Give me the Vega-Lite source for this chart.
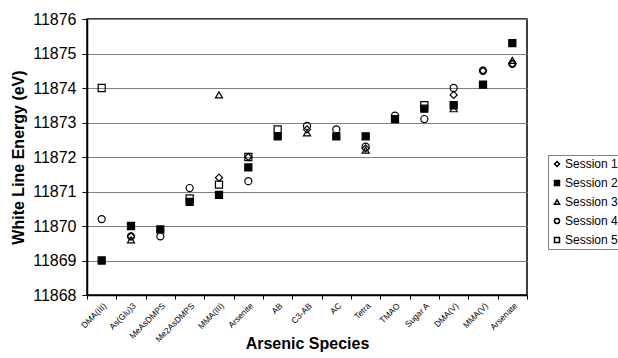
{
  "$schema": "https://vega.github.io/schema/vega-lite/v6.json",
  "width": 440,
  "height": 276,
  "autosize": {"type": "none"},
  "padding": {"left": 87, "top": 19, "right": 91, "bottom": 63},
  "background": "white",
  "config": {
    "font": "Liberation Sans",
    "view": {"stroke": "black", "strokeWidth": 1.5}
  },
  "data": {
    "values": [
      {"species": "DMA(III)", "session": "Session 2", "energy": 11869.0},
      {"species": "DMA(III)", "session": "Session 4", "energy": 11870.2},
      {"species": "DMA(III)", "session": "Session 5", "energy": 11874.0},
      {"species": "As(Glu)3", "session": "Session 1", "energy": 11869.7},
      {"species": "As(Glu)3", "session": "Session 2", "energy": 11870.0},
      {"species": "As(Glu)3", "session": "Session 3", "energy": 11869.6},
      {"species": "As(Glu)3", "session": "Session 4", "energy": 11869.7},
      {"species": "MeAsDMPS", "session": "Session 2", "energy": 11869.9},
      {"species": "MeAsDMPS", "session": "Session 4", "energy": 11869.7},
      {"species": "Me2AsDMPS", "session": "Session 2", "energy": 11870.7},
      {"species": "Me2AsDMPS", "session": "Session 4", "energy": 11871.1},
      {"species": "Me2AsDMPS", "session": "Session 5", "energy": 11870.8},
      {"species": "MMA(III)", "session": "Session 1", "energy": 11871.4},
      {"species": "MMA(III)", "session": "Session 2", "energy": 11870.9},
      {"species": "MMA(III)", "session": "Session 3", "energy": 11873.8},
      {"species": "MMA(III)", "session": "Session 5", "energy": 11871.2},
      {"species": "Arsenite", "session": "Session 1", "energy": 11872.0},
      {"species": "Arsenite", "session": "Session 2", "energy": 11871.7},
      {"species": "Arsenite", "session": "Session 4", "energy": 11871.3},
      {"species": "Arsenite", "session": "Session 5", "energy": 11872.0},
      {"species": "AB", "session": "Session 2", "energy": 11872.6},
      {"species": "AB", "session": "Session 5", "energy": 11872.8},
      {"species": "C3-AB", "session": "Session 1", "energy": 11872.8},
      {"species": "C3-AB", "session": "Session 3", "energy": 11872.7},
      {"species": "C3-AB", "session": "Session 4", "energy": 11872.9},
      {"species": "AC", "session": "Session 2", "energy": 11872.6},
      {"species": "AC", "session": "Session 4", "energy": 11872.8},
      {"species": "Tetra", "session": "Session 1", "energy": 11872.25},
      {"species": "Tetra", "session": "Session 2", "energy": 11872.6},
      {"species": "Tetra", "session": "Session 3", "energy": 11872.2},
      {"species": "Tetra", "session": "Session 4", "energy": 11872.3},
      {"species": "TMAO", "session": "Session 2", "energy": 11873.1},
      {"species": "TMAO", "session": "Session 4", "energy": 11873.2},
      {"species": "Sugar A", "session": "Session 2", "energy": 11873.4},
      {"species": "Sugar A", "session": "Session 4", "energy": 11873.1},
      {"species": "Sugar A", "session": "Session 5", "energy": 11873.5},
      {"species": "DMA(V)", "session": "Session 1", "energy": 11873.8},
      {"species": "DMA(V)", "session": "Session 2", "energy": 11873.5},
      {"species": "DMA(V)", "session": "Session 3", "energy": 11873.4},
      {"species": "DMA(V)", "session": "Session 4", "energy": 11874.0},
      {"species": "MMA(V)", "session": "Session 1", "energy": 11874.5},
      {"species": "MMA(V)", "session": "Session 2", "energy": 11874.1},
      {"species": "MMA(V)", "session": "Session 4", "energy": 11874.5},
      {"species": "Arsenate", "session": "Session 1", "energy": 11874.7},
      {"species": "Arsenate", "session": "Session 2", "energy": 11875.3},
      {"species": "Arsenate", "session": "Session 3", "energy": 11874.8},
      {"species": "Arsenate", "session": "Session 4", "energy": 11874.7}
    ]
  },
  "mark": {"type": "point", "strokeWidth": 1.2, "opacity": 1, "size": 50},
  "encoding": {
    "x": {
      "field": "species",
      "type": "nominal",
      "sort": null,
      "scale": {"paddingInner": 0, "paddingOuter": 0},
      "axis": {
        "title": "Arsenic Species",
        "titleFontSize": 16,
        "titleFontWeight": "bold",
        "titleColor": "black",
        "titleY": 40,
        "titleBaseline": "top",
        "labelAngle": -45,
        "labelAlign": "right",
        "labelBaseline": "top",
        "labelFontSize": 8.5,
        "labelColor": "black",
        "labelPadding": 2,
        "tickBand": "extent",
        "tickColor": "black",
        "tickSize": 4,
        "domainColor": "black",
        "domainWidth": 1.5,
        "grid": false
      }
    },
    "y": {
      "field": "energy",
      "type": "quantitative",
      "scale": {"domain": [11868, 11876], "zero": false, "nice": false},
      "axis": {
        "title": "White Line Energy (eV)",
        "titleFontSize": 16,
        "titleFontWeight": "bold",
        "titleColor": "black",
        "titlePadding": 6,
        "values": [11868, 11869, 11870, 11871, 11872, 11873, 11874, 11875, 11876],
        "format": "d",
        "labelFontSize": 16,
        "labelColor": "black",
        "labelPadding": 6,
        "tickColor": "black",
        "tickSize": 5,
        "domainColor": "black",
        "domainWidth": 1.5,
        "grid": true,
        "gridColor": "#808080",
        "gridWidth": 1
      }
    },
    "shape": {
      "field": "session",
      "type": "nominal",
      "scale": {
        "domain": ["Session 1", "Session 2", "Session 3", "Session 4", "Session 5"],
        "range": ["diamond", "square", "triangle-up", "circle", "square"]
      },
      "legend": {
        "title": null,
        "orient": "none",
        "legendX": 461,
        "legendY": 136,
        "labelFontSize": 12,
        "labelColor": "black",
        "labelOffset": 2,
        "symbolSize": 25,
        "rowPadding": 7,
        "padding": 3,
        "strokeColor": "#808080",
        "fillColor": "white",
        "encode": {
          "symbols": {
            "update": {
              "stroke": {"value": "black"},
              "strokeWidth": {"value": 1}
            }
          }
        }
      }
    },
    "fill": {
      "field": "session",
      "type": "nominal",
      "scale": {
        "domain": ["Session 1", "Session 2", "Session 3", "Session 4", "Session 5"],
        "range": ["transparent", "black", "transparent", "transparent", "transparent"]
      },
      "legend": null
    },
    "stroke": {"value": "black"},
    "order": {"field": "session"}
  }
}
